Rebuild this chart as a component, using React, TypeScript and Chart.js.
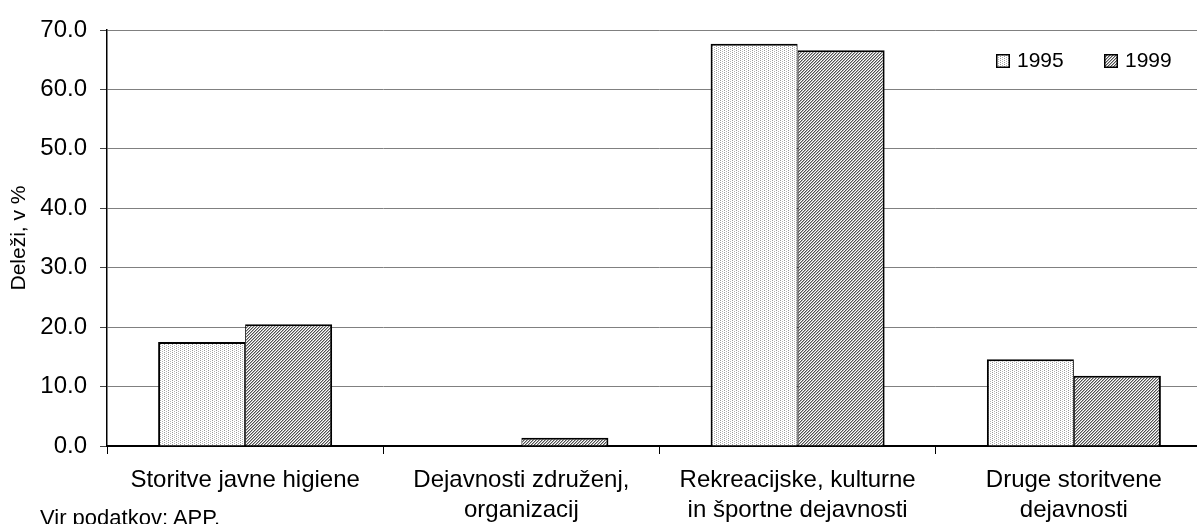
import React, { useEffect, useRef } from "react";
import { Chart, registerables } from "chart.js";

Chart.register(...registerables);

const categories: string[][] = [
  ["Storitve javne higiene"],
  ["Dejavnosti združenj,", "organizacij"],
  ["Rekreacijske, kulturne", "in športne dejavnosti"],
  ["Druge storitvene", "dejavnosti"],
];
const seriesLabels = ["1995", "1999"];
const values1995 = [17.5, 0, 67.7, 14.6];
const values1999 = [20.5, 1.4, 66.6, 11.8];
const yMin = 0;
const yMax = 70;
const yStep = 10;
const yTitle = "Deleži, v %";
const sourceNote = "Vir podatkov: APP.";

const FONT = "'Liberation Sans', Arial, sans-serif";

function makeDotPattern(): CanvasPattern | string {
  const c = document.createElement("canvas");
  c.width = 4;
  c.height = 4;
  const g = c.getContext("2d");
  if (!g) return "#eee";
  g.fillStyle = "#fff";
  g.fillRect(0, 0, 4, 4);
  g.fillStyle = "#999";
  g.fillRect(0, 0, 1, 1);
  g.fillRect(0, 2, 1, 1);
  g.fillStyle = "#b5b5b5";
  g.fillRect(2, 1, 1, 1);
  g.fillRect(2, 3, 1, 1);
  return g.createPattern(c, "repeat") || "#eee";
}

function makeHatchPattern(): CanvasPattern | string {
  const c = document.createElement("canvas");
  c.width = 3;
  c.height = 3;
  const g = c.getContext("2d");
  if (!g) return "#bbb";
  g.fillStyle = "#fff";
  g.fillRect(0, 0, 3, 3);
  for (let x = 0; x < 3; x++) {
    for (let y = 0; y < 3; y++) {
      const k = (x + y) % 3;
      if (k === 0) {
        g.fillStyle = "#505050";
        g.fillRect(x, y, 1, 1);
      } else if (k === 1) {
        g.fillStyle = "#b0b0b0";
        g.fillRect(x, y, 1, 1);
      }
    }
  }
  return g.createPattern(c, "repeat") || "#bbb";
}

const legendPlugin = {
  id: "customLegend",
  afterDraw(chart: any) {
    const ctx = chart.ctx;
    const datasets = chart.data.datasets;
    ctx.save();
    ctx.font = `21px ${FONT}`;
    ctx.textBaseline = "middle";
    ctx.textAlign = "left";
    const startX = 996;
    const gap = 108;
    const cy = 61;
    datasets.forEach((ds: any, i: number) => {
      const bx = startX + i * gap;
      ctx.fillStyle = ds.backgroundColor;
      ctx.fillRect(bx, cy - 7, 14, 14);
      ctx.strokeStyle = "#000";
      ctx.lineWidth = 1.5;
      ctx.strokeRect(bx + 0.75, cy - 6.25, 12.5, 12.5);
      ctx.fillStyle = "#000";
      ctx.fillText(ds.label, bx + 21, cy);
    });
    ctx.restore();
  },
};

export default function App() {
  const ref = useRef<HTMLCanvasElement | null>(null);

  useEffect(() => {
    if (!ref.current) return;
    const dots = makeDotPattern();
    const hatch = makeHatchPattern();
    const chart = new Chart(ref.current, {
      type: "bar",
      data: {
        labels: categories,
        datasets: [
          {
            label: seriesLabels[0],
            data: values1995,
            backgroundColor: dots as any,
            borderColor: "#000",
            borderWidth: { top: 2, left: 2, right: 1, bottom: 0 } as any,
            borderSkipped: false,
            categoryPercentage: 0.63,
            barPercentage: 1,
          },
          {
            label: seriesLabels[1],
            data: values1999,
            backgroundColor: hatch as any,
            borderColor: "#000",
            borderWidth: { top: 2, left: 1, right: 2, bottom: 0 } as any,
            borderSkipped: false,
            categoryPercentage: 0.63,
            barPercentage: 1,
          },
        ],
      },
      options: {
        responsive: false,
        animation: false,
        layout: { padding: { top: 30, right: 18, left: 0, bottom: 0 } },
        plugins: {
          legend: { display: false },
          tooltip: { enabled: false },
        },
        scales: {
          x: {
            grid: {
              offset: true,
              drawOnChartArea: false,
              tickLength: 8,
              tickColor: "#000",
            },
            border: { color: "#000", width: 2 },
            ticks: {
              font: { family: FONT, size: 24, lineHeight: 1.25 },
              color: "#000",
              maxRotation: 0,
              minRotation: 0,
              autoSkip: false,
              padding: 11,
            },
            afterFit: (s: any) => {
              s.height = 78;
            },
          },
          y: {
            min: yMin,
            max: yMax,
            ticks: {
              stepSize: yStep,
              callback: (v: any) => Number(v).toFixed(1),
              font: { family: FONT, size: 24 },
              color: "#000",
              padding: 13,
            },
            grid: { color: "#808080", tickLength: 7, tickColor: "#444" },
            border: { color: "#000", width: 1.5 },
            title: {
              display: true,
              text: yTitle,
              font: { family: FONT, size: 21 },
              color: "#000",
              padding: { top: 7, bottom: 0 },
            },
            afterFit: (s: any) => {
              s.width = 107;
            },
          },
        },
      },
      plugins: [legendPlugin],
    });
    return () => chart.destroy();
  }, []);

  return (
    <div
      style={{
        position: "fixed",
        left: 0,
        top: 0,
        width: 1197,
        height: 524,
        overflow: "hidden",
        background: "#fff",
      }}
    >
      <canvas ref={ref} width={1230} height={524} style={{ display: "block" }} />
      <div
        style={{
          position: "absolute",
          left: 40,
          top: 505,
          fontFamily: FONT,
          fontSize: 22,
          lineHeight: "25px",
          color: "#000",
          whiteSpace: "nowrap",
        }}
      >
        {sourceNote}
      </div>
    </div>
  );
}
